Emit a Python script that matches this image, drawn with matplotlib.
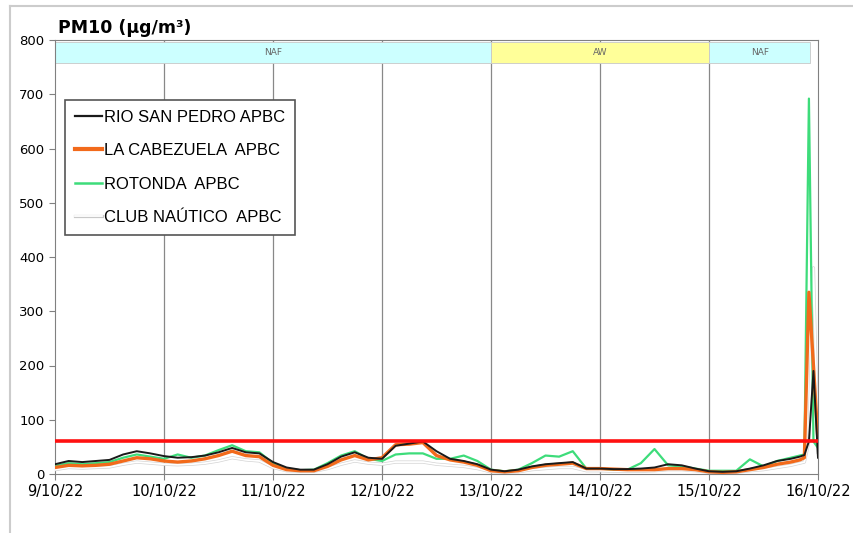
import matplotlib
matplotlib.use("Agg")
import matplotlib.pyplot as plt
import matplotlib.patheffects as pe
from matplotlib.lines import Line2D

# hours since 9/10/22 00:00 (3-hourly, hourly at the end)
hours = list(range(0, 163, 3)) + [163, 164, 165, 166, 167, 168]

rio_san_pedro = [18, 24, 22, 24, 26, 36, 42, 38, 33, 30, 31, 34, 40, 48, 40, 38,
                 22, 12, 8, 8, 18, 32, 40, 30, 28, 52, 56, 60, 42, 28, 24, 18,
                 8, 5, 8, 14, 18, 20, 22, 10, 10, 9, 9, 10, 12, 18, 16, 10,
                 5, 4, 5, 10, 16, 24, 28,
                 30, 32, 35, 60, 190, 30]
la_cabezuela = [12, 16, 15, 16, 18, 24, 30, 28, 24, 22, 24, 28, 34, 42, 34, 32,
                16, 8, 6, 6, 14, 26, 34, 26, 30, 54, 55, 58, 34, 26, 22, 16,
                6, 4, 6, 12, 16, 18, 20, 10, 10, 9, 8, 8, 8, 10, 10, 8,
                4, 3, 4, 8, 12, 18, 22,
                24, 26, 30, 335, 200, 60]
rotonda = [15, 20, 18, 20, 22, 30, 36, 32, 28, 36, 30, 34, 44, 53, 42, 40,
           20, 10, 7, 8, 20, 34, 42, 28, 24, 36, 38, 38, 28, 28, 34, 24,
           8, 5, 8, 20, 34, 32, 42, 10, 10, 8, 8, 20, 46, 16, 14, 10,
           6, 6, 6, 27, 14, 24, 30,
           32, 34, 36, 692, 60, 48]
club_nautico = [8, 12, 11, 12, 13, 18, 22, 20, 18, 17, 18, 20, 24, 30, 26, 24,
                12, 6, 5, 5, 10, 18, 24, 20, 18, 22, 22, 22, 18, 16, 14, 10,
                4, 3, 4, 8, 10, 12, 12, 6, 6, 5, 5, 5, 6, 8, 8, 6,
                3, 3, 3, 6, 8, 12, 16,
                18, 20, 22, 60, 380, 40]

limit_value = 60
day_ticks = [0, 24, 48, 72, 96, 120, 144, 168]
day_labels = ["9/10/22", "10/10/22", "11/10/22", "12/10/22",
              "13/10/22", "14/10/22", "15/10/22", "16/10/22"]

# episode bands: (start hour, end hour, label)
band_start = [0, 96, 144]
band_end = [96, 144, 166.3]
band_label = ["NAF", "AW", "NAF"]
band_color = ["#ccffff", "#ffff99", "#ccffff"]

fig = plt.figure(figsize=(8.54, 5.33), dpi=100)
ax = fig.add_axes([55 / 854, 1 - 474 / 533, 763 / 854, 434 / 533])

for x in day_ticks[1:-1]:
    ax.axvline(x, color="#888888", lw=0.9, zorder=1)

for s, e, lab, c in zip(band_start, band_end, band_label, band_color):
    ax.fill_between([s, e], 757, 797, color=c, ec="#c8c8c8", lw=0.6, zorder=2)
    ax.text((s + e) / 2, 777, lab, ha="center", va="center", fontsize=6.5,
            color="#666666", zorder=3)

ax.plot(hours, club_nautico, color="white", lw=1.3, zorder=4,
        path_effects=[pe.Stroke(linewidth=2.3, foreground="#d4d4d4"), pe.Normal()])
ax.plot(hours, rotonda, color="#3ddc7a", lw=1.6, zorder=5)
ax.plot(hours, la_cabezuela, color="#f26a1b", lw=2.4, zorder=6)
ax.plot(hours, rio_san_pedro, color="#1a1a1a", lw=1.4, zorder=7)
ax.plot([0, 168], [limit_value, limit_value], color="#ff1010", lw=2.6, zorder=8)

ax.set_xlim(0, 168)
ax.set_ylim(0, 800)
ax.set_xticks(day_ticks)
ax.set_xticklabels(day_labels, fontsize=10.5)
ax.set_yticks(range(0, 801, 100))
ax.tick_params(axis="y", labelsize=9.5, length=4, color="#808080")
ax.tick_params(axis="x", length=4, color="#808080")
for sp in ax.spines.values():
    sp.set_color("#808080")

handles = [
    Line2D([], [], color="#1a1a1a", lw=1.6),
    Line2D([], [], color="#f26a1b", lw=3),
    Line2D([], [], color="#3ddc7a", lw=1.8),
    Line2D([], [], color="white", lw=1.3,
           path_effects=[pe.Stroke(linewidth=2.3, foreground="#c8c8c8"), pe.Normal()]),
]
labels = ["RIO SAN PEDRO APBC", "LA CABEZUELA  APBC", "ROTONDA  APBC", "CLUB NAÚTICO  APBC"]
leg = ax.legend(handles, labels, loc="upper left", bbox_to_anchor=(0.013, 0.862),
                borderaxespad=0, fancybox=False, edgecolor="#555555", framealpha=1,
                prop={"family": "Liberation Sans", "size": 12},
                labelspacing=1.1, handlelength=1.6, handletextpad=0.15,
                borderpad=0.6)
leg.get_frame().set_linewidth(1.2)
leg.set_zorder(10)

fig.text(58 / 854, 1 - 33 / 533, "PM10 (µg/m³)", fontsize=12.5, fontweight="bold",
         va="baseline", ha="left")

# light frame around the figure
fig.add_artist(Line2D([10 / 854, 1], [1 - 6 / 533, 1 - 6 / 533], color="#cccccc", lw=1.5))
fig.add_artist(Line2D([10 / 854, 10 / 854], [0, 1 - 6 / 533], color="#cccccc", lw=1.5))

fig.savefig("out.png", dpi=100)
